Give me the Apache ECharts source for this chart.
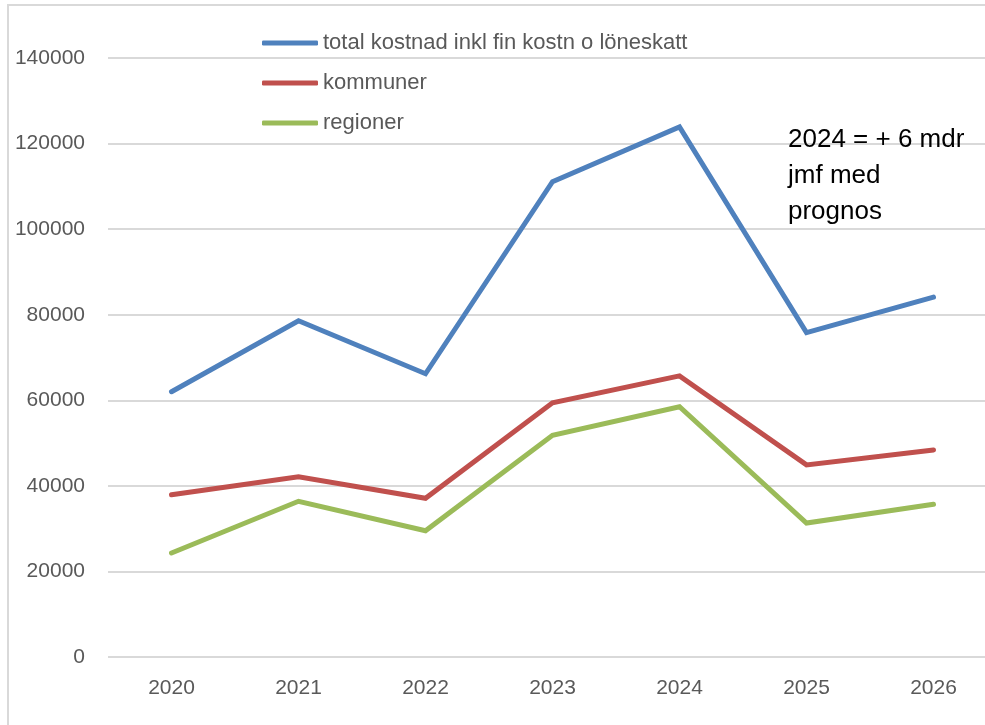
<!DOCTYPE html>
<html>
<head>
    <meta charset="UTF-8">
    <title>Kostnad per år</title>
    <script src="https://cdn.jsdelivr.net/npm/echarts@6.0.0/dist/echarts.min.js"></script>
    <style>
        body { margin: 0; padding: 0; background: #fff; }
        #chart { width: 985px; height: 725px; }
    </style>
</head>
<body>
<div id="chart"></div>
<script>
// data
const years = ['2020', '2021', '2022', '2023', '2024', '2025', '2026'];
const total = [62000, 78600, 66200, 111100, 123900, 75800, 84100];
const kommuner = [37900, 42100, 37100, 59400, 65700, 44900, 48400];
const regioner = [24300, 36400, 29500, 51800, 58500, 31300, 35700];
const seriesNames = ['total kostnad inkl fin kostn o löneskatt', 'kommuner', 'regioner'];
const colors = ['#4F81BD', '#C0504D', '#9BBB59'];

const chart = echarts.init(document.getElementById('chart'));

function lineSeries(name, data, color) {
    return {
        name: name,
        type: 'line',
        data: data,
        symbol: 'none',
        lineStyle: { width: 5, color: color, cap: 'round', join: 'miter' },
        itemStyle: { color: color },
        silent: true
    };
}

chart.setOption({
    animation: false,
    textStyle: { fontFamily: 'Liberation Sans' },
    // plot runs a bit past the right edge of the picture (cropped chart)
    grid: { left: 108, width: 889, top: 58, bottom: 68, outerBoundsMode: 'none' },
    legend: {
        orient: 'vertical',
        left: 262,
        top: 32,
        padding: 0,
        icon: 'roundRect',
        itemWidth: 56,
        itemHeight: 5,
        itemGap: 18,
        data: seriesNames,
        textStyle: { color: '#595959', fontSize: 22, fontFamily: 'Liberation Sans' }
    },
    xAxis: {
        type: 'category',
        data: years,
        boundaryGap: true,
        axisLine: { show: false },
        axisTick: { show: false },
        axisLabel: { color: '#595959', fontSize: 21, margin: 21 }
    },
    yAxis: {
        type: 'value',
        min: 0,
        max: 140000,
        interval: 20000,
        axisLine: { show: false },
        axisTick: { show: false },
        axisLabel: { color: '#595959', fontSize: 21, margin: 23, formatter: v => String(v) },
        splitLine: { lineStyle: { color: '#d9d9d9', width: 2 } }
    },
    graphic: [
        {
            type: 'rect',
            shape: { x: 8, y: 5, width: 1100, height: 900 },
            style: { fill: 'none', stroke: '#d9d9d9', lineWidth: 2 },
            silent: true,
            z: -1
        },
        {
            type: 'text',
            left: 788,
            top: 122,
            z: 100,
            style: {
                text: '2024 = + 6 mdr\njmf med\nprognos',
                fill: '#000',
                fontSize: 26,
                lineHeight: 36,
                fontFamily: 'Liberation Sans'
            }
        }
    ],
    series: [
        lineSeries(seriesNames[0], total, colors[0]),
        lineSeries(seriesNames[1], kommuner, colors[1]),
        lineSeries(seriesNames[2], regioner, colors[2])
    ]
});
</script>
</body>
</html>
